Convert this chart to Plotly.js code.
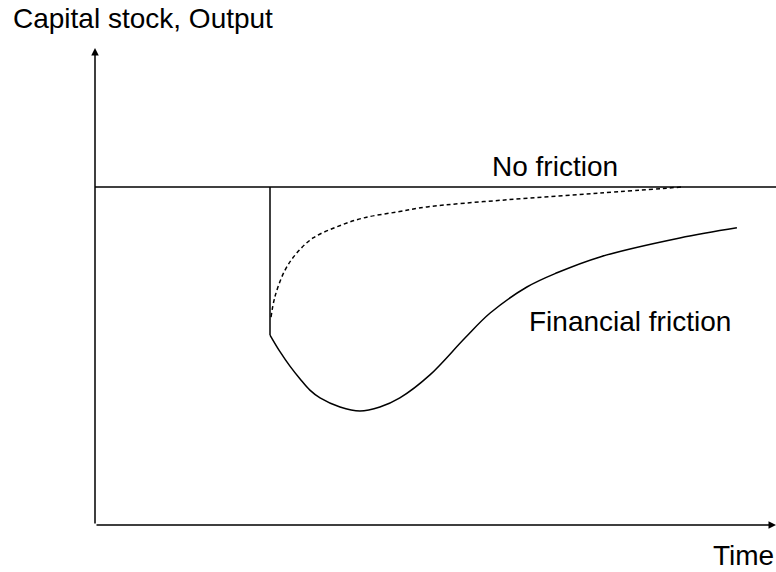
<!DOCTYPE html>
<html>
<head>
<meta charset="utf-8">
<script src="https://cdn.plot.ly/plotly-3.0.1.min.js"></script>
<style>
  html, body { margin: 0; padding: 0; background: #fff; }
  #chart { width: 776px; height: 572px; }
</style>
</head>
<body>
<div id="chart"></div>
<script>
// Schematic response after a shock at t = 5 (steady state = 1)
const shockTime = 5;
const steadyLevel = 1.0;
const jumpLevel = 0.562;

// Financial friction path (solid)
const frictionTime = [5, 5.29, 5.57, 5.86, 6.14, 6.43, 7.0, 7.57, 8.14, 8.71, 9.57, 10.57, 11.29, 12.34, 13.2, 14.43, 16.71, 18.34];
const frictionLevel = [0.562, 0.512, 0.47, 0.432, 0.399, 0.376, 0.349, 0.337, 0.349, 0.376, 0.444, 0.553, 0.627, 0.704, 0.746, 0.793, 0.849, 0.879];

// Dashed recovery path
const dashedTime = [5.03, 5.14, 5.43, 5.77, 6.23, 6.91, 7.66, 8.63, 9.49, 11.77, 14.43, 16.8];
const dashedLevel = [0.615, 0.675, 0.754, 0.805, 0.849, 0.882, 0.908, 0.926, 0.941, 0.962, 0.982, 1.0];

const xMax = 19.457;
const yMax = 1.411;

const lineColor = '#000';
const font = { family: 'Liberation Sans, Arial, Helvetica, sans-serif', size: 28, color: '#000' };

const traces = [
  {
    x: [0, xMax],
    y: [steadyLevel, steadyLevel],
    mode: 'lines',
    line: { color: lineColor, width: 1.5 },
    hoverinfo: 'skip',
  },
  {
    x: [shockTime, shockTime],
    y: [steadyLevel, jumpLevel],
    mode: 'lines',
    line: { color: lineColor, width: 1.5 },
    hoverinfo: 'skip',
  },
  {
    x: frictionTime,
    y: frictionLevel,
    mode: 'lines',
    line: { color: lineColor, width: 1.5, shape: 'spline', smoothing: 1 },
    hoverinfo: 'skip',
  },
  {
    x: dashedTime,
    y: dashedLevel,
    mode: 'lines',
    line: { color: lineColor, width: 1.5, dash: '4px,3px', shape: 'spline', smoothing: 1 },
    hoverinfo: 'skip',
  },
];

const axisArrow = (x, y, ax, ay) => ({
  x, y, ax, ay,
  xref: 'x', yref: 'y', axref: 'x', ayref: 'y',
  text: '', showarrow: true,
  arrowhead: 2, arrowsize: 1, arrowwidth: 1.5, arrowcolor: lineColor,
});

// labels placed in paper coordinates so the ones outside the plot area still show
const label = (text, x, y) => ({
  text, x, y, xref: 'paper', yref: 'paper',
  xanchor: 'left', yanchor: 'middle',
  showarrow: false, font,
});

const toPaperX = t => t / xMax;
const toPaperY = v => v / yMax;

const layout = {
  width: 776,
  height: 572,
  margin: { l: 95, r: 0, t: 48, b: 47 },
  paper_bgcolor: '#fff',
  plot_bgcolor: '#fff',
  showlegend: false,
  xaxis: { range: [0, xMax], visible: false, fixedrange: true },
  yaxis: { range: [0, yMax], visible: false, fixedrange: true },
  annotations: [
    axisArrow(0, yMax, 0, 0),
    axisArrow(xMax, 0, 0, 0),
    label('Capital stock, Output', toPaperX(-2.4), toPaperY(1.497)),
    label('No friction', toPaperX(11.29), toPaperY(1.059)),
    label('Financial friction', toPaperX(12.34), toPaperY(0.601)),
    label('Time', toPaperX(17.6), toPaperY(-0.089)),
  ],
};

Plotly.newPlot('chart', traces, layout, { displayModeBar: false, staticPlot: true });
</script>
</body>
</html>
